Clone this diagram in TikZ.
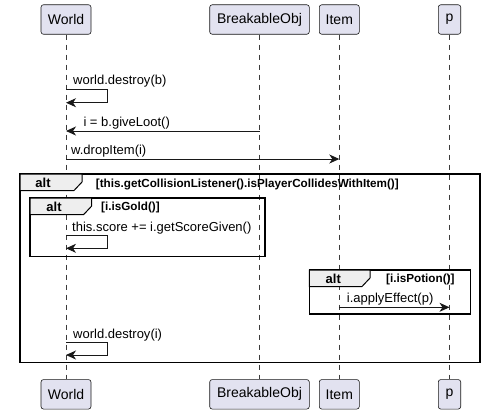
\documentclass[tikz,border=0pt]{standalone}
\usepackage{fontspec}
\setmainfont{Liberation Sans}
\usetikzlibrary{arrows.meta}
\definecolor{partfill}{HTML}{E2E2F0}
\definecolor{ink}{HTML}{181818}
\definecolor{tabfill}{HTML}{EEEEEE}
\tikzset{
  participant/.style={draw=ink, fill=partfill, rounded corners=2.5bp, line width=0.6bp,
    minimum height=29.5bp, inner sep=0, font=\fontsize{14bp}{16bp}\selectfont},
  lifeline/.style={draw=ink!85, dash pattern=on 5bp off 5bp, line width=0.6bp},
  msg/.style={draw=ink, line width=0.9bp, -{Stealth[length=10bp,width=9bp,inset=3bp]}},
  msglabel/.style={font=\fontsize{13bp}{15bp}\selectfont, anchor=base west, inner sep=0},
  frame/.style={draw=black, line width=1.5bp},
  tab/.style={draw=black, fill=tabfill, line width=1bp},
  altlabel/.style={font=\bfseries\fontsize{13bp}{15bp}\selectfont, anchor=base, inner sep=0},
  guard/.style={font=\bfseries\fontsize{11.7bp}{13bp}\selectfont, anchor=base west, inner sep=0},
}
\begin{document}
\begin{tikzpicture}[x=1bp,y=-1bp]
\useasboundingbox (0,0) rectangle (485,414);
% participants
\node[participant, minimum width=50bp] (wT) at (66,19.5) {World};
\node[participant, minimum width=99.6bp] (bT) at (259.5,19.5) {BreakableObj};
\node[participant, minimum width=40bp] (iT) at (339.3,19.5) {Item};
\node[participant, minimum width=22.4bp] (pT) at (449.5,19.5) {p};
\node[participant, minimum width=50bp] (wB) at (66,394.3) {World};
\node[participant, minimum width=99.6bp] (bB) at (259.5,394.3) {BreakableObj};
\node[participant, minimum width=40bp] (iB) at (339.3,394.3) {Item};
\node[participant, minimum width=22.4bp] (pB) at (449.5,394.3) {p};
% lifelines
\draw[lifeline] (wT) -- (wB);
\draw[lifeline] (bT) -- (bB);
\draw[lifeline] (iT) -- (iB);
\draw[lifeline] (pT) -- (pB);
% frames
\draw[frame] (20,174) rectangle (480,362.7);
\draw[tab] (20,174) -- (82,174) -- (82,182) -- (74,190.5) -- (20,190.5) -- cycle;
\node[altlabel] (alt1) at (43,187.5) {alt};
\node[guard] (g1) at (95.7,187.5) {[this.getCollisionListener().isPlayerCollidesWithItem()]};

\draw[frame] (30,198) rectangle (265,256.7);
\draw[tab] (30,198) -- (91.7,198) -- (91.7,206) -- (83.7,214.5) -- (30,214.5) -- cycle;
\node[altlabel] (alt2) at (54,211) {alt};
\node[guard] (g2) at (101,210.5) {[i.isGold()]};

\draw[frame] (309.3,270) rectangle (470.7,314);
\draw[tab] (309.3,270) -- (370,270) -- (370,278) -- (362,286.5) -- (309.3,286.5) -- cycle;
\node[altlabel] (alt3) at (333.3,283) {alt};
\node[guard] (g3) at (386,282.5) {[i.isPotion()]};

% coordinates on lifelines
\coordinate (w1) at (wT.south |- 0,89.3);
\coordinate (b2) at (bT.south |- 0,131);
\coordinate (w2) at (wT.south |- 0,131);
\coordinate (w3) at (wT.south |- 0,159);
\coordinate (i3) at (iT.south |- 0,159);
\coordinate (w4) at (wT.south |- 0,235.7);
\coordinate (i5) at (iT.south |- 0,307.3);
\coordinate (p5) at (pT.south |- 0,307.3);
\coordinate (w6) at (wT.south |- 0,342.7);

% messages
\draw[msg] (w1) -- ++(41.3,0) -- ++(0,13.4) -- ++(-41.3,0);
\node[msglabel] (t1) at (73,84.5) {world.destroy(b)};
\draw[msg] (b2) -- (w2);
\node[msglabel] (t2) at (83.3,126.5) {i = b.giveLoot()};
\draw[msg] (w3) -- (i3);
\node[msglabel] (t3) at (71,154.5) {w.dropItem(i)};
\draw[msg] (w4) -- ++(41.3,0) -- ++(0,12.6) -- ++(-41.3,0);
\node[msglabel] (t4) at (72,231) {this.score += i.getScoreGiven()};
\draw[msg] (i5) -- (p5);
\node[msglabel] (t5) at (346.7,302.8) {i.applyEffect(p)};
\draw[msg] (w6) -- ++(41.3,0) -- ++(0,12.3) -- ++(-41.3,0);
\node[msglabel] (t6) at (73,338) {world.destroy(i)};
\end{tikzpicture}
\end{document}
